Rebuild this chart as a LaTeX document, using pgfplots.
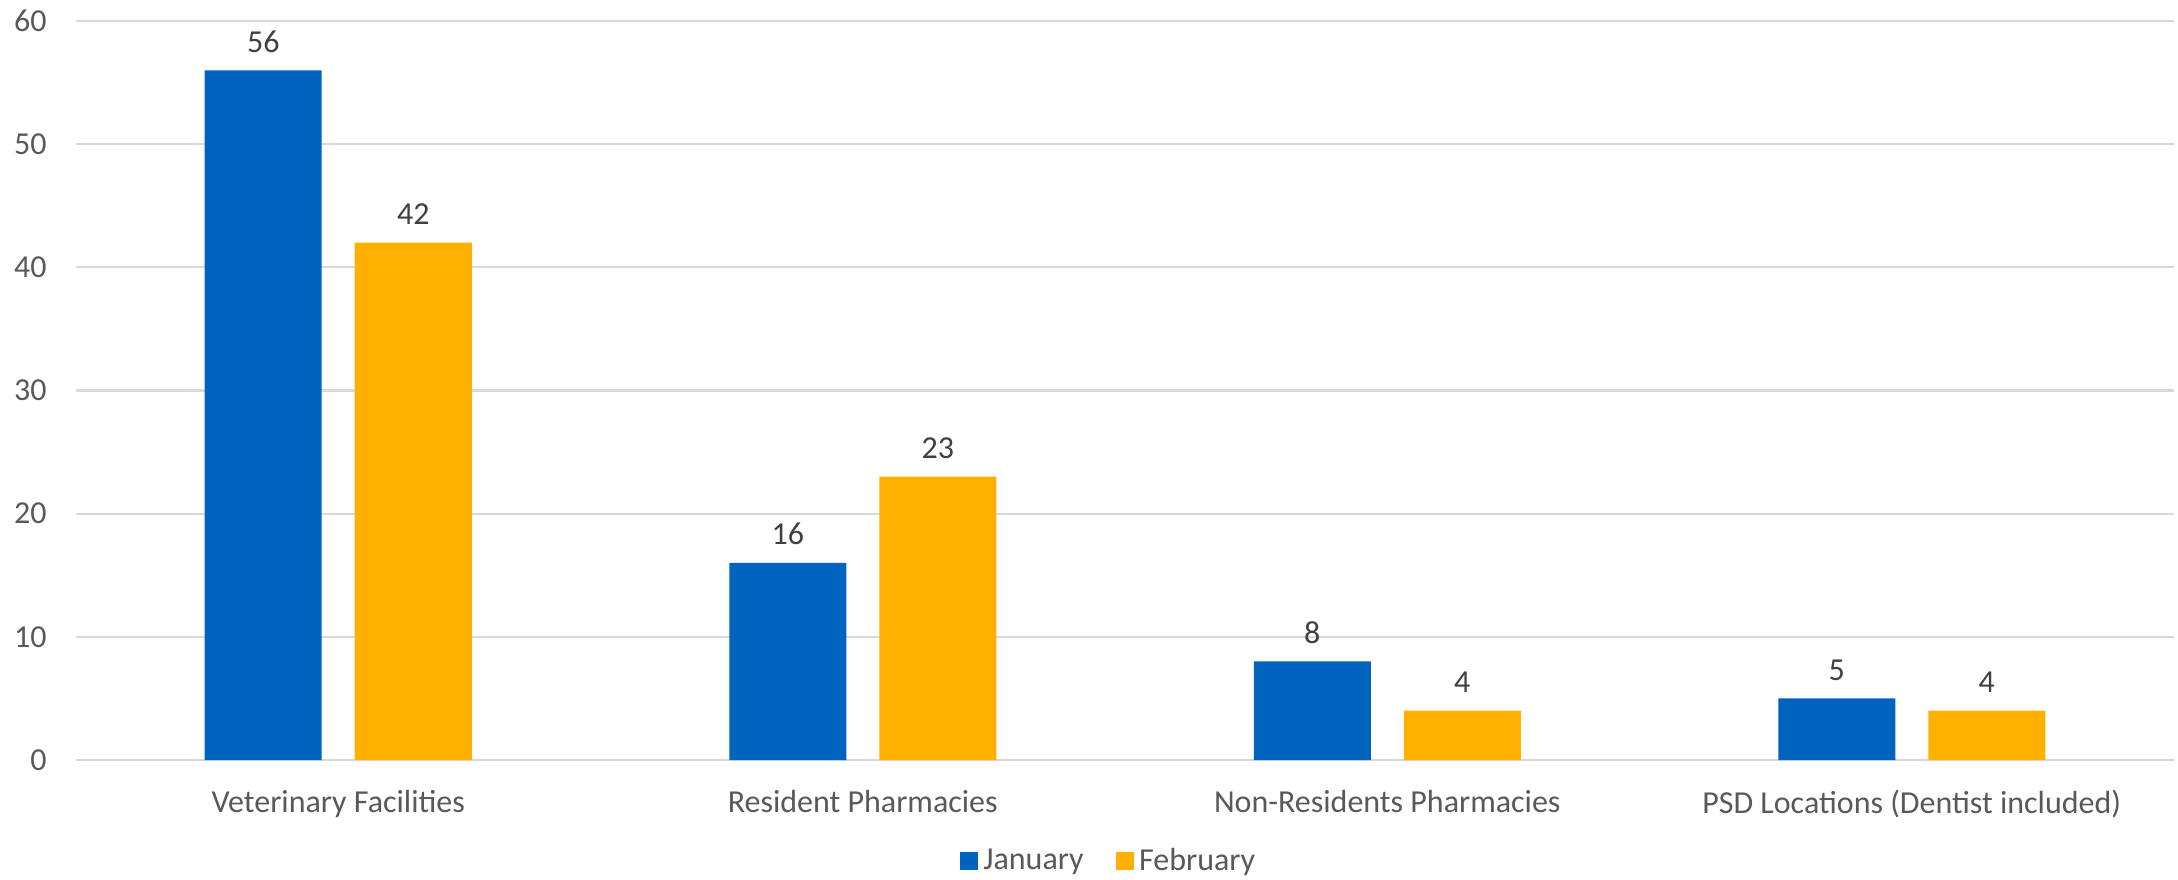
\documentclass[border=0pt]{standalone}
\usepackage{pgfplots}
\pgfplotsset{compat=1.18}
\usepackage{fontspec}
\setmainfont{Carlito}

\definecolor{jan}{RGB}{0,99,190}
\definecolor{feb}{RGB}{255,176,0}
\definecolor{gridgray}{RGB}{217,217,217}
\definecolor{ticktext}{RGB}{89,89,89}
\definecolor{labeltext}{RGB}{64,64,64}

\begin{document}
\begin{tikzpicture}
% fix the page to the reference proportions
\useasboundingbox (-30.4pt,-47.6pt) rectangle (840.8pt,304pt);
\begin{axis}[
    scale only axis,
    width=839.2pt, height=295.6pt,
    ybar=13.2pt, bar width=46.8pt,
    xmin=-0.5, xmax=3.5,
    ymin=0, ymax=60,
    ytick={0,10,...,60},
    xtick=data,
    xticklabels={Veterinary Facilities, Resident Pharmacies, Non-Residents Pharmacies, PSD Locations (Dentist included)},
    axis line style={draw=none},
    major tick length=0pt,
    ymajorgrids,
    grid style={gridgray, line width=0.9pt},
    font=\fontsize{12.8}{15}\selectfont,
    tick label style={text=ticktext},
    /pgf/number format/assume math mode=true,
    yticklabel style={anchor=east, inner sep=0pt, xshift=-11.6pt},
    xticklabel style={anchor=north, inner sep=0pt, yshift=-12pt},
    nodes near coords,
    every node near coord/.append style={text=labeltext, anchor=south, inner sep=0pt, yshift=7pt},
    legend style={
        at={(0.493,-0.137)}, anchor=center,
        draw=none, legend columns=2,
        text=ticktext,
        /tikz/every even column/.append style={column sep=11pt}
    },
    legend image code/.code={\fill[#1] (-1pt,-3.6pt) rectangle (6.2pt,3.6pt);},
]
% January
\addplot[fill=jan, draw=none] coordinates {
    (0,56)
    (1,16)
    (2,8)
    (3,5)
};
% February
\addplot[fill=feb, draw=none] coordinates {
    (0,42)
    (1,23)
    (2,4)
    (3,4)
};
\legend{January, February}
\end{axis}
\end{tikzpicture}
\end{document}
